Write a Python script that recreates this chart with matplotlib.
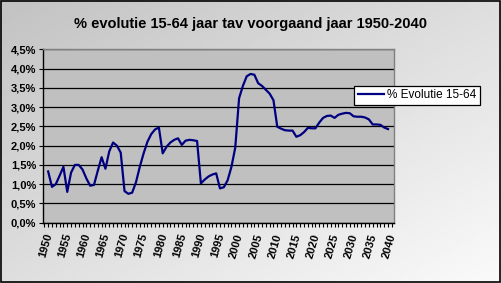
import matplotlib
matplotlib.use("Agg")
import matplotlib.pyplot as plt
import numpy as np
from matplotlib.ticker import FuncFormatter, MultipleLocator

years = list(range(1951, 2041))
values = [
    1.33, 0.93, 1.00, 1.22, 1.45, 0.80, 1.30, 1.50, 1.50, 1.38,
    1.15, 0.96, 0.98, 1.35, 1.70, 1.40, 1.85, 2.08, 2.00, 1.82,
    0.82, 0.75, 0.78, 1.05, 1.45, 1.80, 2.10, 2.30, 2.42, 2.47,
    1.80, 1.97, 2.08, 2.15, 2.19, 2.02, 2.13, 2.15, 2.14, 2.12,
    1.02, 1.12, 1.20, 1.25, 1.28, 0.89, 0.92, 1.10, 1.45, 1.95,
    3.23, 3.55, 3.80, 3.86, 3.84, 3.62, 3.55, 3.45, 3.35, 3.18,
    2.49, 2.44, 2.40, 2.39, 2.39, 2.23, 2.27, 2.35, 2.46, 2.45,
    2.45, 2.60, 2.72, 2.77, 2.78, 2.72, 2.80, 2.83, 2.85, 2.84,
    2.76, 2.75, 2.75, 2.73, 2.68, 2.55, 2.55, 2.54, 2.47, 2.43,
]
year_labels = list(range(1950, 2041, 5))
title = "% evolutie 15-64 jaar tav voorgaand jaar 1950-2040"
series_name = "% Evolutie 15-64"

plt.rcParams['font.family'] = ['Liberation Sans', 'DejaVu Sans']

W, H = 501, 283
fig = plt.figure(figsize=(W / 100, H / 100), dpi=100)

# gradient background
bg = fig.add_axes([0, 0, 1, 1], zorder=-10)
gx, gy = np.meshgrid(np.linspace(0, 1, 200), np.linspace(0, 1, 120))
grad = 0.76 + 0.22 * (0.5 * gx + 0.5 * gy)
bg.imshow(grad, cmap='gray', vmin=0, vmax=1, aspect='auto', extent=[0, 1, 0, 1], origin='upper')
bg.set_xlim(0, 1); bg.set_ylim(0, 1)
bg.axis('off')
bg.add_patch(plt.Rectangle((0.001, 0.002), 0.997, 0.995, fill=False, edgecolor='black', lw=1.2,
                           transform=bg.transAxes))

ax = fig.add_axes([43 / W, (H - 222.7) / H, 351.3 / W, 173.4 / H])
ax.set_facecolor('#C0C0C0')
ax.plot(years, values, color='#000080', lw=1.6, label=series_name, zorder=3)

ax.set_ylim(0, 4.5)
ax.set_xlim(1949.65, 2041.65)
ax.yaxis.set_major_locator(MultipleLocator(0.5))
ax.yaxis.set_major_formatter(FuncFormatter(lambda v, p: f"{v:.1f}%".replace('.', ',')))
ax.grid(axis='y', color='black', lw=0.9)
ax.set_axisbelow(True)

ax.set_xticks(year_labels)
ax.set_xticklabels([str(y) for y in year_labels], rotation=74, ha='right', va='top',
                   rotation_mode='anchor', fontweight='bold', fontsize=8)
ax.set_xticks(list(range(1950, 2042)), minor=True)
ax.tick_params(axis='x', which='both', length=3, width=0.8, direction='out', pad=4)
ax.tick_params(axis='y', length=3, width=0.8, pad=2, labelsize=8)
for lab in ax.get_yticklabels():
    lab.set_fontweight('bold')

for s in ['top', 'right']:
    ax.spines[s].set_color('#808080')
    ax.spines[s].set_linewidth(1)
for s in ['left', 'bottom']:
    ax.spines[s].set_color('black')
    ax.spines[s].set_linewidth(1)

fig.text(250 / W, 1 - 24 / H, title, ha='center', va='center', fontsize=10.5, fontweight='bold')

leg = fig.legend(loc='center', bbox_to_anchor=(417 / W, 1 - 95.5 / H), frameon=True,
                 fancybox=False, edgecolor='black', framealpha=1, fontsize=8.5,
                 handlelength=2.2, borderpad=0.3, handletextpad=0.3)
leg.get_frame().set_linewidth(0.9)

fig.savefig('out.png', dpi=100)
